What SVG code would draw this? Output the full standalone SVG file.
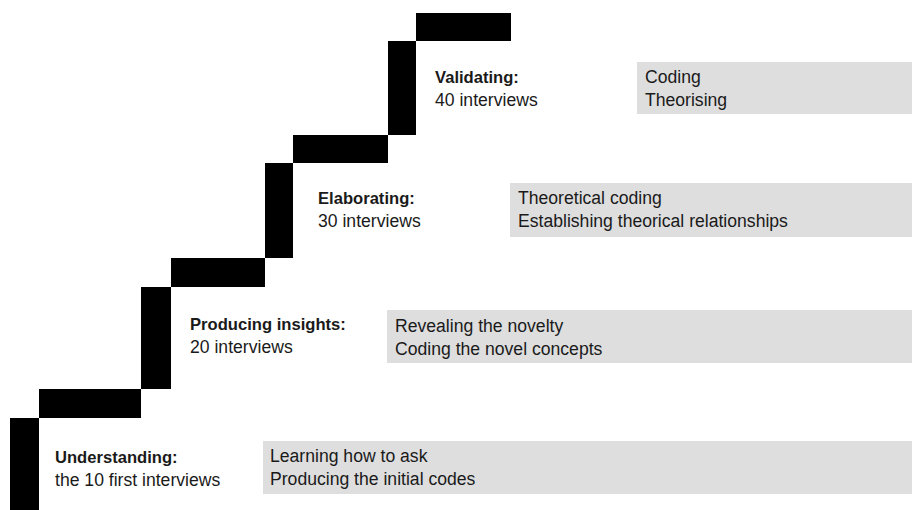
<svg xmlns="http://www.w3.org/2000/svg" width="912" height="510" viewBox="0 0 912 510">
<style>
  text { font-family: "Liberation Sans", Arial, sans-serif; font-size: 17.6px; fill: #1a1a1a; }
  .b { font-weight: bold; font-size: 16.6px; }
  .box { fill: #dedede; }
  .stair { fill: #000; }
</style>
<rect width="912" height="510" fill="#fff"/>
<g id="staircase">
  <path class="stair" d="M10,510 V418 H39 V389 H141 V287 H171 V258 H265 V163 H293 V135 H388 V41 H416 V13 H511 V41 H416 V135 H388 V163 H293 V258 H265 V287 H171 V389 H141 V418 H39 V510 Z"/>
</g>
<g id="connectors"></g>
<g id="understanding">
  <text class="b" x="55" y="463">Understanding:</text>
  <text x="55" y="486">the 10 first interviews</text>
  <rect class="box" x="263" y="441" width="649" height="53"/>
  <text x="270" y="462">Learning how to ask</text>
  <text x="270" y="485">Producing the initial codes</text>
</g>
<g id="producing-insights">
  <text class="b" x="190" y="330">Producing insights:</text>
  <text x="190" y="353">20 interviews</text>
  <rect class="box" x="387" y="310" width="525" height="53"/>
  <text x="395" y="332">Revealing the novelty</text>
  <text x="395" y="355">Coding the novel concepts</text>
</g>
<g id="elaborating">
  <text class="b" x="318" y="204">Elaborating:</text>
  <text x="318" y="227">30 interviews</text>
  <rect class="box" x="510" y="183" width="402" height="54"/>
  <text x="518" y="204">Theoretical coding</text>
  <text x="518" y="227">Establishing theorical relationships</text>
</g>
<g id="validating">
  <text class="b" x="435" y="83">Validating:</text>
  <text x="435" y="106">40 interviews</text>
  <rect class="box" x="637" y="62" width="275" height="52"/>
  <text x="645" y="83">Coding</text>
  <text x="645" y="106">Theorising</text>
</g>
</svg>
